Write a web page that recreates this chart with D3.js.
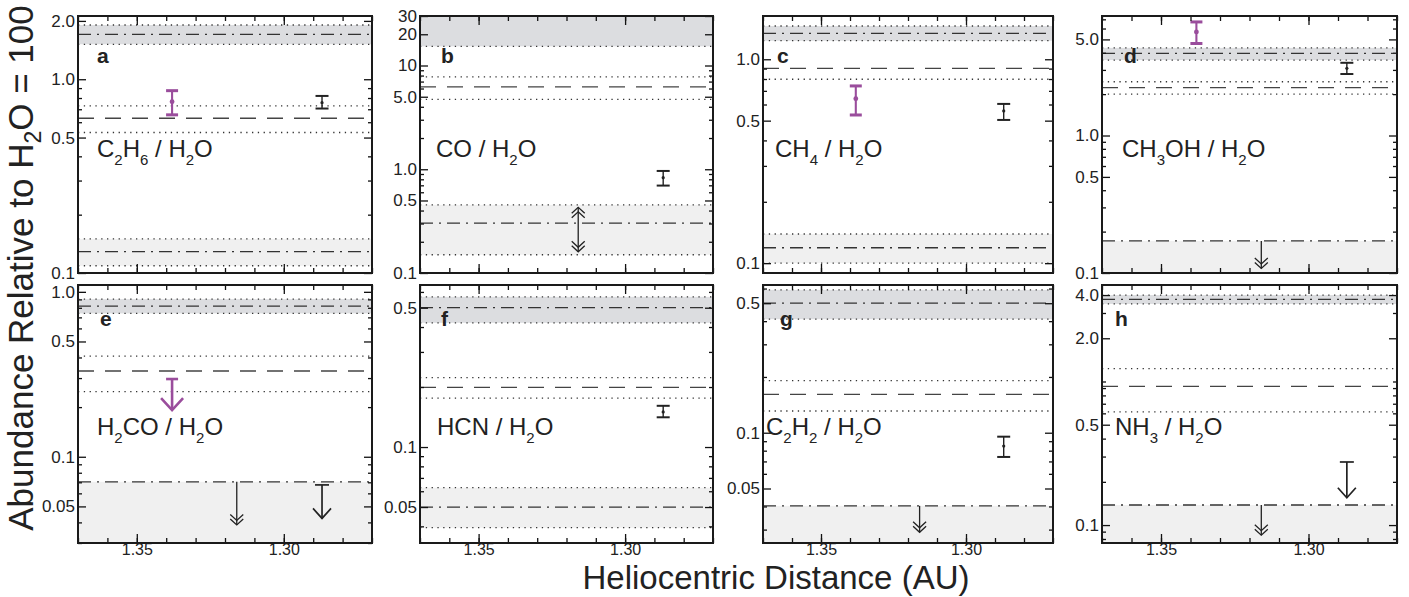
<!DOCTYPE html>
<html>
<head>
<meta charset="utf-8">
<script src="https://cdn.jsdelivr.net/npm/d3@7"></script>
<style>
  body { margin: 0; background: #fff; }
  text { font-family: "Liberation Sans", Arial, sans-serif; }
</style>
</head>
<body>
<script>
const W = 1409, H = 597;

// panel data, order a..h
const letters = ["a", "b", "c", "d", "e", "f", "g", "h"];
const formulas = ["C_2H_6 / H_2O", "CO / H_2O", "CH_4 / H_2O", "CH_3OH / H_2O",
                  "H_2CO / H_2O", "HCN / H_2O", "C_2H_2 / H_2O", "NH_3 / H_2O"];
const yDomains = [[0.1, 2.12], [0.1, 30], [0.0895, 1.63], [0.1, 7.4],
                  [0.03, 1.1], [0.033, 0.65], [0.0254, 0.627], [0.075, 4.7]];
const yTickLabels = [[2, 1, 0.5, 0.1], [30, 20, 10, 5, 1, 0.5, 0.1], [1, 0.5, 0.1], [5, 1, 0.5, 0.1],
                     [1, 0.5, 0.1, 0.05], [0.5, 0.1, 0.05], [0.5, 0.1, 0.05], [4, 2, 0.5, 0.1]];
const xDomain = [1.37, 1.27];
const xLabelTicks = [1.35, 1.30];

// reference ranges [lower, centre, upper]; null = beyond the plot
const bandHigh = [[1.515, 1.706, 1.905], [15.3, null, null], [1.233, 1.341, 1.456], [3.54, 3.96, 4.34],
                  [0.740, 0.819, 0.903], [0.42, 0.5, 0.567], [0.41, 0.5, 0.59], [3.47, 3.73, 4.0]];
const bandMid = [[0.531, 0.629, 0.728], [4.71, 6.22, 7.77], [0.798, 0.903, null], [2.0, 2.23, 2.46],
                 [0.248, 0.331, 0.408], [0.176, 0.199, 0.223], [0.131, 0.161, 0.191], [0.615, 0.925, 1.23]];
const bandLow = [[0.109, 0.129, 0.150], [0.150, 0.303, 0.454], [0.1, 0.119, 0.139], [null, 0.171, null],
                 [null, 0.0705, null], [0.0394, 0.05, 0.0625], [null, 0.0403, null], [null, 0.138, null]];
// arrows on the low band [from, to]
const lowArrow = [null, [0.43, 0.16], null, [0.171, 0.108], [0.0705, 0.0386], null, [0.0403, 0.029], [0.138, 0.085]];

// measurements [value, low, high] and upper limits [cap, tip]
const xPurple = 1.338, xBlack = 1.287, xRange = 1.316;
const purple = [[0.766, 0.655, 0.873], null, [0.641, 0.533, 0.74], [5.67, 4.67, 6.70], null, null, null, null];
const purpleLimit = [null, null, null, null, [0.296, 0.192], null, null, null];
const black = [[0.757, 0.706, 0.820], [0.83, 0.696, 0.963], [0.558, 0.504, 0.604], [3.08, 2.80, 3.38],
               null, [0.150, 0.141, 0.161], [0.0847, 0.074, 0.0952], null];
const blackLimit = [null, null, null, null, [0.0675, 0.0423], null, null, [0.275, 0.155]];

// layout
const lefts = [78, 420, 763, 1102], rights = [372, 713, 1053, 1397];
const tops = [16, 285], bottoms = [273, 543];
const letterDx = [19, 21, 14, 22, 22, 21, 17, 13];
const letterY = [63, 326];
const formulaDx = [19, 16, 12, 20, 19, 17, 3, 13];
const formulaY = [157, 435];

const purpleCol = "#9a4d9c";
const darkBand = "#dcdde0", lightBand = "#f0f0f0";

const svg = d3.select("body").append("svg").attr("width", W).attr("height", H);

function fmt(v) {
  if (v >= 10) return String(v);
  if (v >= 1) return v.toFixed(1);
  return String(v);
}

function formula(sel, str) {
  const parts = str.split(/(_\d)/).filter(s => s);
  let down = false;
  parts.forEach(p => {
    if (p[0] === "_") {
      sel.append("tspan").attr("font-size", 15).attr("dy", 8).text(p[1]);
      down = true;
    } else {
      sel.append("tspan").attr("dy", down ? -8 : 0).text(p);
      down = false;
    }
  });
}

function chevron(g, cx, cy, dir, hw, hh) {
  // dir = 1 points down, -1 points up
  g.append("path")
    .attr("d", `M${cx - hw},${cy - dir * hh}L${cx},${cy}L${cx + hw},${cy - dir * hh}`)
    .attr("fill", "none");
}

letters.forEach((L, i) => {
  const col = i % 4, row = Math.floor(i / 4);
  const x0 = lefts[col], x1 = rights[col], y0 = tops[row], y1 = bottoms[row];
  const x = d3.scaleLinear().domain(xDomain).range([x0, x1]);
  const y = d3.scaleLog().domain(yDomains[i]).range([y1, y0]);

  svg.append("clipPath").attr("id", "clip" + i)
    .append("rect").attr("x", x0).attr("y", y0).attr("width", x1 - x0).attr("height", y1 - y0);
  const g = svg.append("g").attr("clip-path", `url(#clip${i})`);

  const hline = (v, dash, col, w) => {
    if (v == null) return;
    g.append("line").attr("x1", x0).attr("x2", x1).attr("y1", y(v)).attr("y2", y(v))
      .attr("stroke", col).attr("stroke-width", w).attr("stroke-dasharray", dash);
  };

  // bands
  const hb = bandHigh[i];
  const hbTop = hb[2] == null ? y0 : y(hb[2]);
  g.append("rect").attr("x", x0).attr("width", x1 - x0)
    .attr("y", hbTop).attr("height", y(hb[0]) - hbTop).attr("fill", darkBand);
  const lb = bandLow[i];
  const lbTop = lb[2] == null ? y(lb[1]) : y(lb[2]);
  const lbBot = lb[0] == null ? y1 : y(lb[0]);
  g.append("rect").attr("x", x0).attr("width", x1 - x0)
    .attr("y", lbTop).attr("height", lbBot - lbTop).attr("fill", lightBand);

  // reference lines
  [hb, bandMid[i], lb].forEach((b, k) => {
    hline(b[0], "1.3,4.5", "#333", 1.3);
    hline(b[2], "1.3,4.5", "#333", 1.3);
    if (k === 1) hline(b[1], "16,11", "#444", 1.3);
    else hline(b[1], "13,6,2,6", "#333", 1.3);
  });

  // range arrows on low band
  const la = lowArrow[i];
  if (la) {
    const ax = x(xRange);
    const a = g.append("g").attr("stroke", "#222").attr("stroke-width", 1.3).attr("fill", "none");
    a.append("line").attr("x1", ax).attr("x2", ax).attr("y1", y(la[0])).attr("y2", y(la[1]));
    chevron(a, ax, y(la[1]), 1, 6.5, 6);
    chevron(a, ax, y(la[1]) - 4.5, 1, 6.5, 6);
    if (lb[0] != null) {
      chevron(a, ax, y(la[0]), -1, 6.5, 6);
      chevron(a, ax, y(la[0]) + 4.5, -1, 6.5, 6);
    }
  }

  // error bars
  const errbar = (d, xv, col, w, cw) => {
    if (!d) return;
    const px = x(xv);
    const e = g.append("g").attr("stroke", col).attr("fill", col);
    e.append("line").attr("x1", px).attr("x2", px).attr("y1", y(d[1])).attr("y2", y(d[2]))
      .attr("stroke-width", w * 0.7);
    [d[1], d[2]].forEach(v => e.append("line").attr("x1", px - cw / 2).attr("x2", px + cw / 2)
      .attr("y1", y(v)).attr("y2", y(v)).attr("stroke-width", w));
    e.append("circle").attr("cx", px).attr("cy", y(d[0])).attr("r", w * 0.8).attr("stroke", "none");
  };
  errbar(purple[i], xPurple, purpleCol, 3, 12);
  errbar(black[i], xBlack, "#222", 2, 13);

  // upper limits
  const limit = (d, xv, col, w, cw, hw, hh) => {
    if (!d) return;
    const px = x(xv);
    const e = g.append("g").attr("stroke", col).attr("stroke-width", w).attr("fill", "none");
    e.append("line").attr("x1", px).attr("x2", px).attr("y1", y(d[0])).attr("y2", y(d[1]));
    e.append("line").attr("x1", px - cw / 2).attr("x2", px + cw / 2).attr("y1", y(d[0])).attr("y2", y(d[0]));
    chevron(e, px, y(d[1]), 1, hw, hh);
  };
  limit(purpleLimit[i], xPurple, purpleCol, 2.6, 12, 11, 12);
  limit(blackLimit[i], xBlack, "#222", 1.7, 14, 9, 10);

  // axes
  const ax = svg.append("g");
  const minorX = d3.range(127, 138).map(v => v / 100);
  const noLab = () => "";
  ax.append("g").attr("transform", `translate(0,${y1})`)
    .call(d3.axisBottom(x).tickValues(minorX).tickSize(-5).tickFormat(noLab));
  ax.append("g").attr("transform", `translate(0,${y0})`)
    .call(d3.axisTop(x).tickValues(minorX).tickSize(-5).tickFormat(noLab));
  ax.append("g").attr("transform", `translate(0,${y0})`)
    .call(d3.axisTop(x).tickValues(xLabelTicks).tickSize(-9).tickFormat(noLab));
  ax.append("g").attr("class", "xlab").attr("transform", `translate(0,${y1})`)
    .call(d3.axisBottom(x).tickValues(xLabelTicks).tickSize(-9).tickPadding(1)
      .tickFormat(row === 1 ? d3.format(".2f") : noLab));

  const majors = yTickLabels[i];
  const minorY = y.ticks().filter(v => !majors.some(m => Math.abs(m - v) < 1e-9));
  ax.append("g").attr("transform", `translate(${x0},0)`)
    .call(d3.axisLeft(y).tickValues(minorY).tickSize(-4).tickFormat(noLab));
  ax.append("g").attr("transform", `translate(${x1},0)`)
    .call(d3.axisRight(y).tickValues(minorY).tickSize(-4).tickFormat(noLab));
  ax.append("g").attr("transform", `translate(${x1},0)`)
    .call(d3.axisRight(y).tickValues(majors).tickSize(-8).tickFormat(noLab));
  ax.append("g").attr("transform", `translate(${x0},0)`)
    .call(d3.axisLeft(y).tickValues(majors).tickSize(-8).tickPadding(3).tickFormat(fmt));

  ax.selectAll(".domain").remove();
  ax.selectAll(".tick line").attr("stroke", "#111").attr("stroke-width", 1.3);
  ax.selectAll(".tick text").attr("font-size", 17).attr("fill", "#222")
    .attr("font-family", "Liberation Sans, Arial, sans-serif");
  ax.selectAll(".xlab .tick text").attr("font-size", 16);

  svg.append("rect").attr("x", x0).attr("y", y0).attr("width", x1 - x0).attr("height", y1 - y0)
    .attr("fill", "none").attr("stroke", "#1a1a1a").attr("stroke-width", 2);

  // labels
  svg.append("text").attr("x", x0 + letterDx[i]).attr("y", letterY[row])
    .attr("font-size", 21).attr("font-weight", "bold").attr("fill", "#222").text(L);
  const t = svg.append("text").attr("x", x0 + formulaDx[i]).attr("y", formulaY[row])
    .attr("font-family", "Noto Sans, sans-serif").attr("font-size", 24).attr("fill", "#222");
  formula(t, formulas[i]);
});

// axis titles
const yt = svg.append("text").attr("transform", "translate(33,268) rotate(-90)")
  .attr("text-anchor", "middle").attr("font-size", 35).attr("fill", "#222");
yt.append("tspan").text("Abundance Relative to H");
yt.append("tspan").attr("font-size", 23).attr("dy", 8).text("2");
yt.append("tspan").attr("dy", -8).text("O = 100");

svg.append("text").attr("x", 776).attr("y", 589).attr("text-anchor", "middle")
  .attr("font-size", 33).attr("fill", "#222").text("Heliocentric Distance (AU)");
</script>
</body>
</html>
